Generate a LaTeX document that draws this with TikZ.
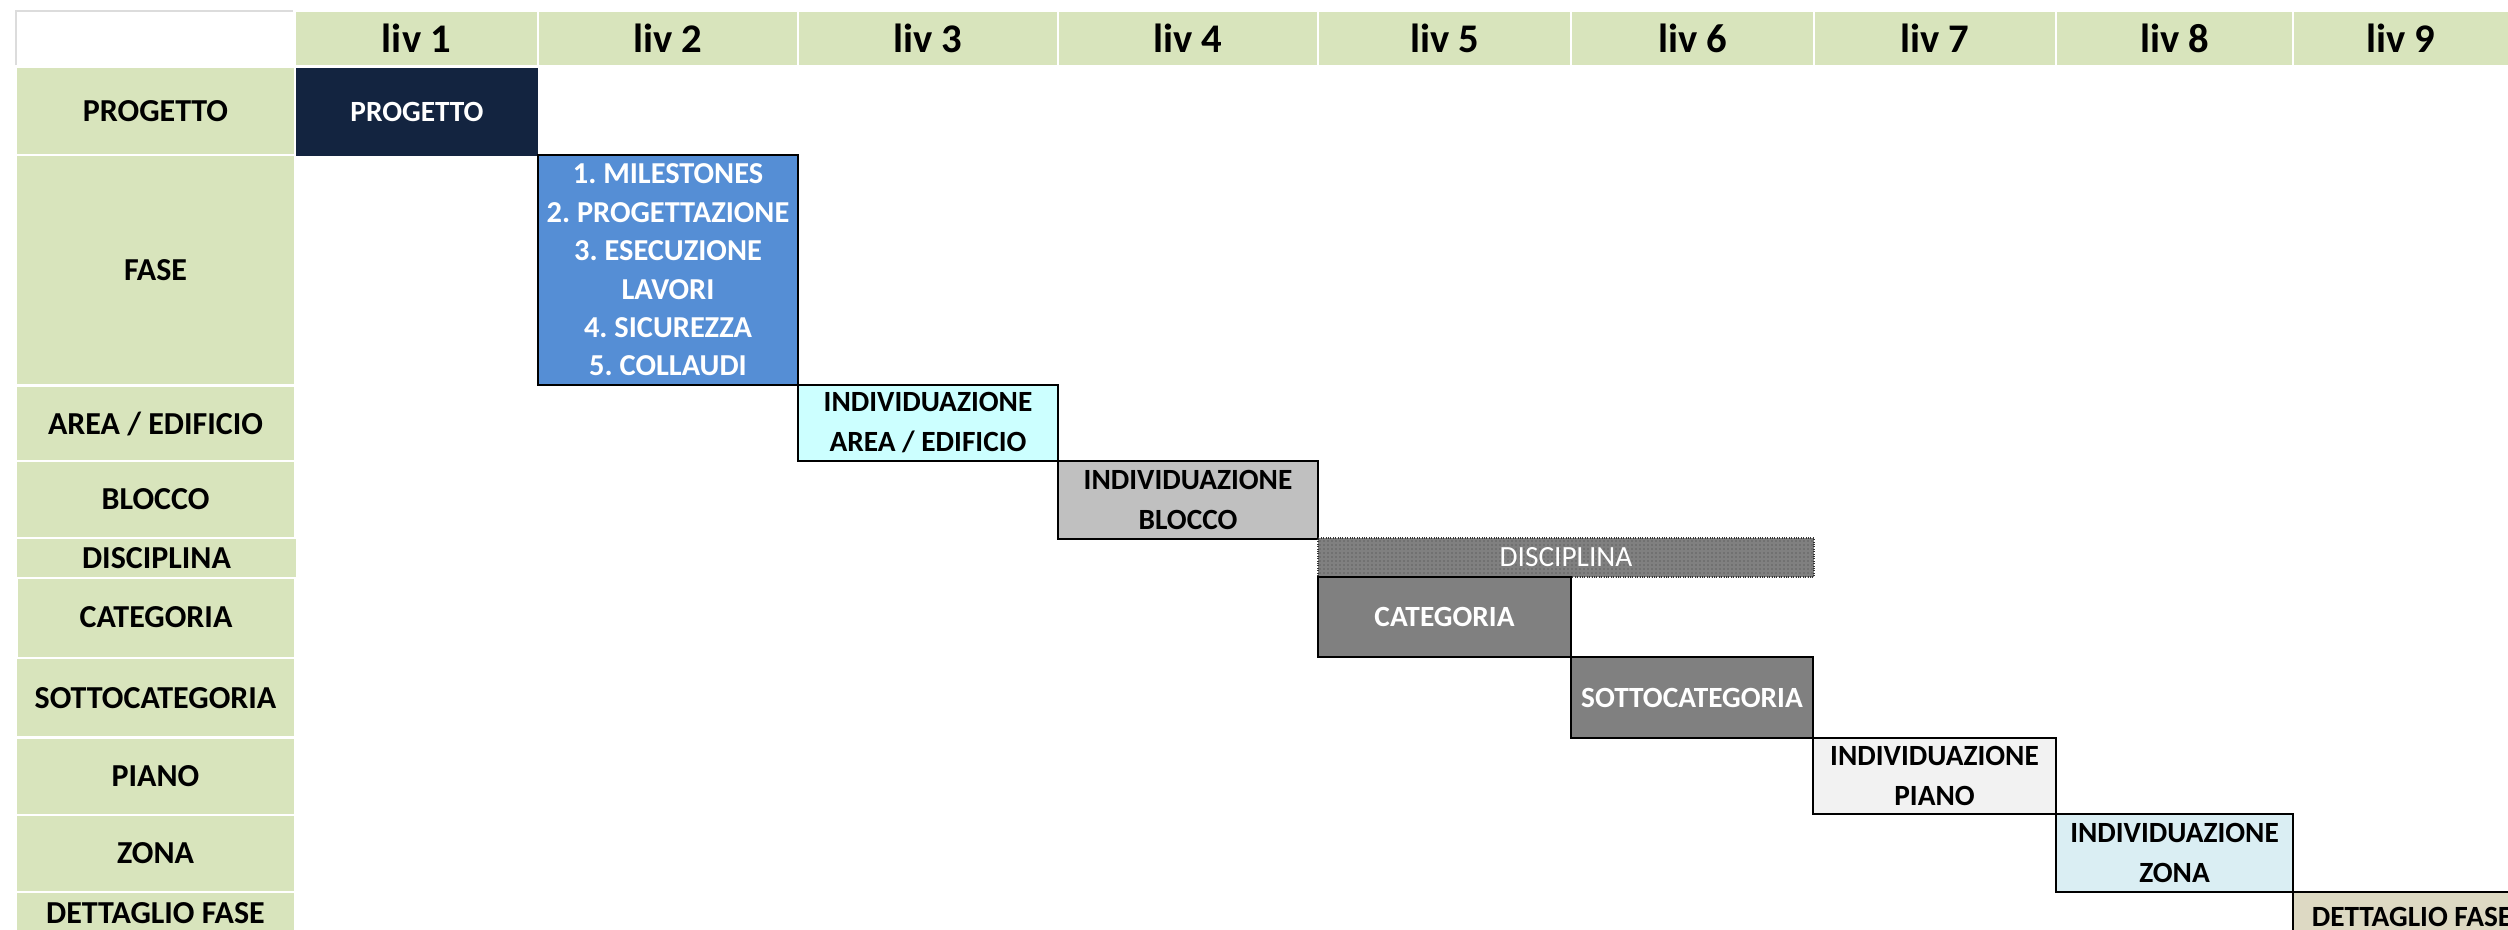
\documentclass[tikz,border=0pt]{standalone}
\usepackage{fontspec}
\setmainfont{Carlito}
\usetikzlibrary{patterns}
\definecolor{lab}{HTML}{D8E4BC}
\definecolor{navy}{HTML}{132440}
\definecolor{faseblue}{HTML}{558ED5}
\definecolor{areacyan}{HTML}{CCFFFF}
\definecolor{bloccogrey}{HTML}{C0C0C0}
\definecolor{catgrey}{HTML}{808080}
\definecolor{pianogrey}{HTML}{F2F2F2}
\definecolor{zonablue}{HTML}{DAEEF3}
\definecolor{tanbox}{HTML}{DDD9C3}
\definecolor{discfill}{HTML}{808080}
\definecolor{discdot}{HTML}{404040}
\definecolor{cornergrey}{HTML}{DCDCDC}
\frenchspacing
\begin{document}
\begin{tikzpicture}[x=0.75pt,y=-0.75pt,
  sz/.style 2 args={minimum width=#1*0.75pt, minimum height=#2*0.75pt},
  cell/.style={anchor=north west, inner sep=0pt, outer sep=0pt, align=center},
  hdr/.style={cell, fill=lab, font=\bfseries\fontsize{30.5}{36}\selectfont},
  lbl/.style={cell, fill=lab, font=\bfseries\fontsize{24}{28}\selectfont},
  lvbox/.style={cell, draw=black, line width=1.5pt},
  bigtxt/.style={font=\bfseries\fontsize{22}{28.8}\selectfont},
  fasetxt/.style={font=\bfseries\fontsize{22.8}{28.8}\selectfont},
  smalltxt/.style={font=\bfseries\fontsize{22}{30}\selectfont}
]
\useasboundingbox (0,0) rectangle (2508,929);
\clip (0,0) rectangle (2508,929);
% corner cell
\coordinate (c1) at (16,65);
\coordinate (c2) at (16,11);
\coordinate (c3) at (293,11);
\draw[cornergrey, line width=1.5pt] (c1) -- (c2) -- (c3);
% header
\node[hdr, sz={241}{53}] (h1) at (296,12) {liv 1};
\node[hdr, sz={258}{53}] (h2) at (539,12) {liv 2};
\node[hdr, sz={258}{53}] (h3) at (799,12) {liv 3};
\node[hdr, sz={258}{53}] (h4) at (1059,12) {liv 4};
\node[hdr, sz={251}{53}] (h5) at (1319,12) {liv 5};
\node[hdr, sz={241}{53}] (h6) at (1572,12) {liv 6};
\node[hdr, sz={240}{53}] (h7) at (1815,12) {liv 7};
\node[hdr, sz={235}{53}] (h8) at (2057,12) {liv 8};
\node[hdr, sz={214}{53}] (h9) at (2294,12) {liv 9};
% row labels
\node[lbl, sz={277}{85.5}] (lProg) at (17,68) {PROGETTO};
\node[lbl, sz={277}{228}] (lFase) at (17,156) {FASE};
\node[lbl, sz={277}{73}] (lArea) at (17,387) {AREA / EDIFICIO};
\node[lbl, sz={277}{74.5}] (lBlocco) at (17,462) {BLOCCO};
\node[lbl, sz={279}{38.2}] (lDisc) at (17,538.6) {DISCIPLINA};
\node[lbl, sz={276}{78}] (lCat) at (18,578.5) {CATEGORIA};
\node[lbl, sz={277}{77.4}] (lSotto) at (17,659) {SOTTOCATEGORIA};
\node[lbl, sz={277}{75}] (lPiano) at (17,739) {PIANO};
\node[lbl, sz={277}{74.5}] (lZona) at (17,816) {ZONA};
\node[lbl, sz={277}{40}] (lDett) at (17,893) {DETTAGLIO FASE};
% level boxes
\node[cell, fill=navy, text=white, bigtxt, sz={242}{88}] (bProg) at (296,68) {PROGETTO};
\node[lvbox, fill=faseblue, text=white, fasetxt, sz={260}{230}] (bFase) at (538,155)
  {1. MILESTONES\\2. PROGETTAZIONE\\3. ESECUZIONE\\LAVORI\\4. SICUREZZA\\5. COLLAUDI};
\node[lvbox, fill=areacyan, smalltxt, sz={260}{76}] (bArea) at (798,385) {INDIVIDUAZIONE\\AREA / EDIFICIO};
\node[lvbox, fill=bloccogrey, smalltxt, sz={260}{78}] (bBlocco) at (1058,461) {INDIVIDUAZIONE\\BLOCCO};
\node[cell, fill=discfill, postaction={pattern=dots, pattern color=discdot},
  draw=black!80, densely dotted, line width=0.8pt, text=white,
  font=\fontsize{22}{26}\selectfont, sz={496}{39}] (bDisc) at (1318,538) {DISCIPLINA};
\node[lvbox, fill=catgrey, text=white, bigtxt, sz={253}{80}] (bCat) at (1318,577) {CATEGORIA};
\node[lvbox, fill=catgrey, text=white, bigtxt, sz={242}{81}] (bSotto) at (1571,657) {SOTTOCATEGORIA};
\node[lvbox, fill=pianogrey, smalltxt, sz={243}{76}] (bPiano) at (1813,738) {INDIVIDUAZIONE\\PIANO};
\node[lvbox, fill=zonablue, smalltxt, sz={237}{78}] (bZona) at (2056,814) {INDIVIDUAZIONE\\ZONA};
\node[lvbox, fill=tanbox, font=\bfseries\fontsize{22}{26}\selectfont, sz={238}{50}] (bDett) at (2293,892) {DETTAGLIO FASE};
\end{tikzpicture}
\end{document}
